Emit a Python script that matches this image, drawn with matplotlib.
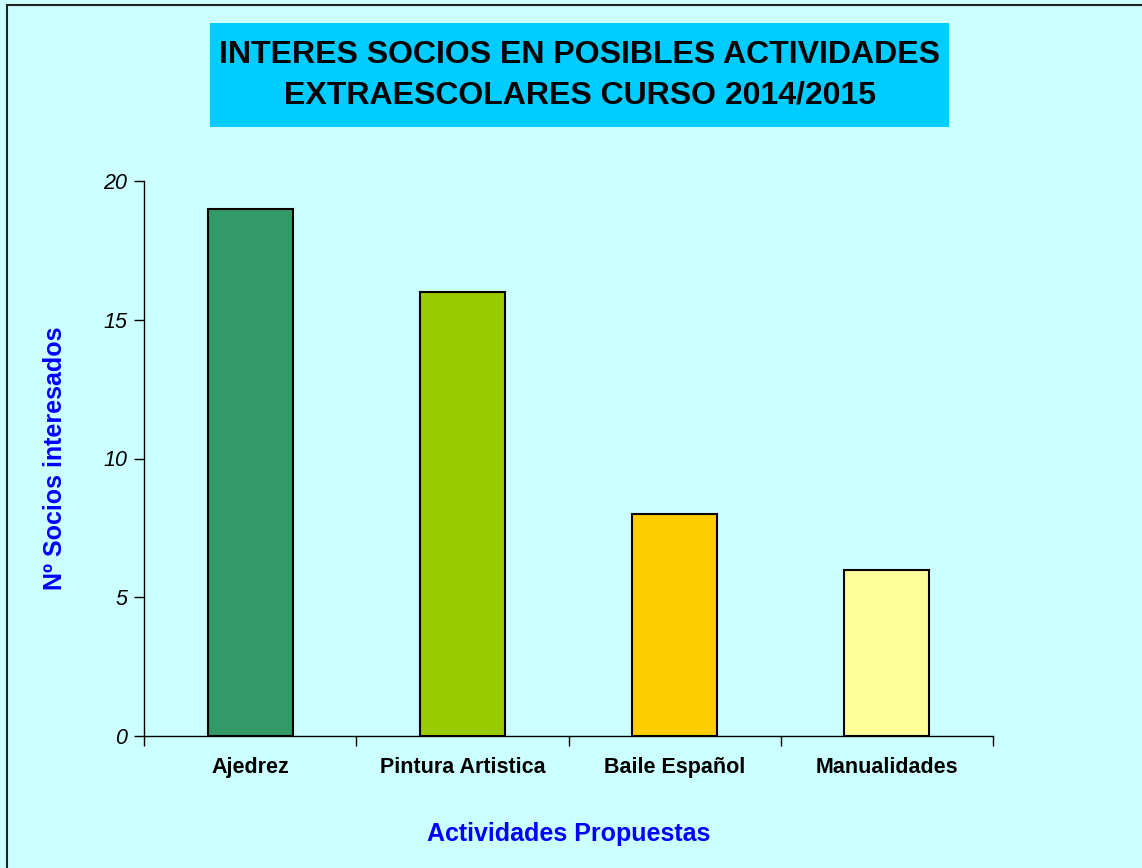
import matplotlib.pyplot as plt
from matplotlib.patches import Rectangle

# Datos
actividades = ["Ajedrez", "Pintura Artistica", "Baile Español", "Manualidades"]
socios = [19, 16, 8, 6]
colores = ["#339966", "#99CC00", "#FFCC00", "#FFFF99"]
yticks = [0, 5, 10, 15, 20]

plt.rcParams['font.family'] = ['Liberation Sans', 'DejaVu Sans']

fig = plt.figure(figsize=(11.42, 8.68), dpi=100)
fig.patch.set_facecolor('#CCFFFF')

# Marco exterior
fig.add_artist(Rectangle((7 / 1142, -0.01), 1.2, 1 - 5 / 868 + 0.01,
                         transform=fig.transFigure, fill=False,
                         edgecolor='#222222', linewidth=1.5))

ax = fig.add_axes([144 / 1142, 1 - 736 / 868, (993 - 144) / 1142, (736 - 181) / 868])
ax.set_facecolor('#CCFFFF')

x = range(len(actividades))
ax.bar(x, socios, width=0.4, color=colores, edgecolor='black', linewidth=1.5, zorder=3)

ax.set_xlim(-0.5, len(actividades) - 0.5)
ax.set_ylim(0, 20)
ax.set_yticks(yticks)
ax.set_yticklabels([str(v) for v in yticks], fontsize=15.5, fontstyle='italic')

# Ticks del eje x entre categorías
ax.set_xticks([i - 0.5 for i in range(len(actividades) + 1)])
ax.set_xticklabels([])
ax.set_xticks(list(x), minor=True)
ax.set_xticklabels(actividades, minor=True, fontsize=15.5, fontweight='bold')
ax.tick_params(axis='x', which='minor', length=0, pad=15)
ax.tick_params(axis='x', which='major', length=7, direction='out', width=1)
ax.tick_params(axis='y', length=7, direction='out', width=1, pad=5)

for lado in ['top', 'right']:
    ax.spines[lado].set_visible(False)
ax.spines['left'].set_linewidth(1)
ax.spines['bottom'].set_linewidth(1)

ax.set_xlabel("Actividades Propuestas", fontsize=18, fontweight='bold', color='#0000FF', labelpad=32)
ax.set_ylabel("Nº Socios interesados", fontsize=18, fontweight='bold', color='#0000FF', labelpad=26)

# Título con caja
fig.add_artist(Rectangle((210 / 1142, 1 - 127 / 868), (949 - 210) / 1142, (127 - 23) / 868,
                         transform=fig.transFigure, facecolor='#00CCFF', edgecolor='none'))
fig.text(579.5 / 1142, 1 - 75 / 868,
         "INTERES SOCIOS EN POSIBLES ACTIVIDADES\nEXTRAESCOLARES CURSO 2014/2015",
         ha='center', va='center', fontsize=23, fontweight='bold', linespacing=1.45)

fig.savefig('out.png', dpi=100, facecolor=fig.get_facecolor())
